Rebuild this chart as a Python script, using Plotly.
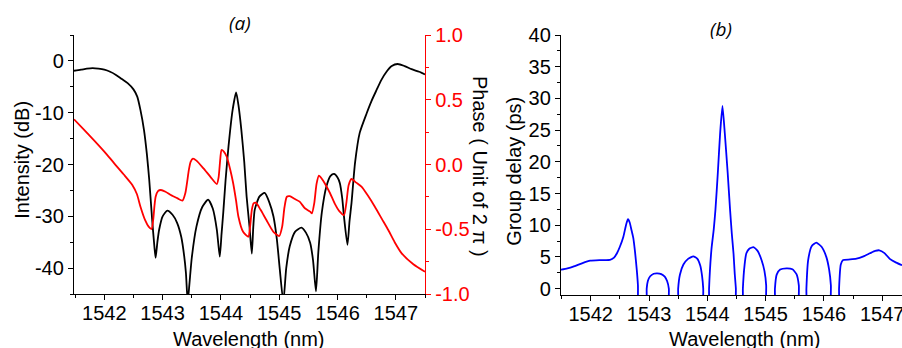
import plotly.graph_objects as go

# ---------------- data ----------------
# (a) intensity (dB) vs wavelength (nm)
int_wl = [1541.48, 1541.60, 1541.70, 1541.80, 1541.90, 1542.00, 1542.10, 1542.20, 1542.30, 1542.40,
          1542.50, 1542.565, 1542.62, 1542.68, 1542.73, 1542.77, 1542.82, 1542.86, 1542.88, 1542.91,
          1542.94, 1543.00, 1543.08, 1543.17, 1543.25, 1543.32, 1543.37, 1543.40, 1543.43, 1543.46,
          1543.50, 1543.58, 1543.68, 1543.78, 1543.86, 1543.93, 1543.98, 1544.01, 1544.04, 1544.08,
          1544.13, 1544.20, 1544.26, 1544.30, 1544.35, 1544.40, 1544.44, 1544.49, 1544.53, 1544.555,
          1544.58, 1544.66, 1544.75, 1544.83, 1544.90, 1544.96, 1545.01, 1545.07, 1545.12, 1545.18,
          1545.27, 1545.38, 1545.46, 1545.53, 1545.58, 1545.63, 1545.67, 1545.73, 1545.81, 1545.88,
          1545.94, 1546.00, 1546.04, 1546.08, 1546.11, 1546.17, 1546.205, 1546.24, 1546.30, 1546.38,
          1546.50, 1546.58, 1546.67, 1546.75, 1546.84, 1546.93, 1547.03, 1547.15, 1547.27, 1547.40,
          1547.50]
int_db = [-1.9, -1.7, -1.5, -1.4, -1.5, -1.7, -2.1, -2.7, -3.5, -4.3,
          -5.5, -6.9, -9.5, -13.3, -18.0, -22.9, -30.6, -36.0, -38.0, -35.0,
          -32.6, -30.0, -28.9, -29.7, -31.3, -34.0, -37.7, -41.0, -46.5, -43.0,
          -38.0, -32.0, -28.2, -26.8, -28.5, -32.6, -37.8, -33.5, -29.3, -23.0,
          -16.5, -9.5, -6.1, -8.5, -13.3, -19.5, -26.1, -32.0, -37.2, -32.0,
          -28.7, -26.2, -25.5, -27.3, -30.0, -34.5, -40.3, -46.5, -40.0, -35.8,
          -33.0, -32.2, -33.2, -35.1, -38.5, -44.5, -37.0, -29.3, -24.2, -22.2,
          -21.8, -22.5, -23.6, -26.5, -30.0, -35.5, -31.0, -27.4, -19.7, -13.9,
          -10.1, -7.8, -5.6, -3.7, -2.1, -1.0, -0.6, -1.0, -1.6, -2.1,
          -2.6]

# (a) phase (unit of 2 pi) vs wavelength
ph_wl = [1541.48, 1541.65, 1541.82, 1542.00, 1542.17, 1542.33, 1542.48, 1542.56, 1542.62, 1542.70,
         1542.76, 1542.81, 1542.84, 1542.86, 1542.88, 1542.92, 1542.97, 1543.05, 1543.14, 1543.25,
         1543.34, 1543.39, 1543.45, 1543.48, 1543.52, 1543.58, 1543.70, 1543.82, 1543.93, 1543.96,
         1543.99, 1544.01, 1544.05, 1544.10, 1544.16, 1544.21, 1544.26, 1544.30, 1544.38, 1544.47,
         1544.50, 1544.53, 1544.56, 1544.60, 1544.68, 1544.78, 1544.90, 1545.00, 1545.05, 1545.09,
         1545.13, 1545.18, 1545.26, 1545.35, 1545.44, 1545.53, 1545.56, 1545.60, 1545.64, 1545.68,
         1545.73, 1545.78, 1545.87, 1545.95, 1546.03, 1546.11, 1546.15, 1546.19, 1546.24, 1546.32,
         1546.41, 1546.52, 1546.64, 1546.76, 1546.87, 1546.98, 1547.10, 1547.30, 1547.50]
ph_val = [0.349, 0.27, 0.189, 0.10, 0.009, -0.075, -0.158, -0.23, -0.326, -0.43,
          -0.48, -0.498, -0.42, -0.32, -0.249, -0.205, -0.197, -0.21, -0.236, -0.26,
          -0.279, -0.22, -0.042, 0.02, 0.045, 0.03, -0.03, -0.095, -0.151, -0.10,
          0.05, 0.112, 0.10, 0.06, -0.04, -0.145, -0.28, -0.403, -0.52, -0.558,
          -0.48, -0.35, -0.30, -0.295, -0.35, -0.429, -0.52, -0.552, -0.48, -0.33,
          -0.249, -0.245, -0.265, -0.287, -0.338, -0.364, -0.377, -0.30, -0.15, -0.086,
          -0.11, -0.145, -0.22, -0.30, -0.36, -0.39, -0.30, -0.16, -0.112, -0.14,
          -0.171, -0.24, -0.326, -0.42, -0.506, -0.60, -0.686, -0.77, -0.828]

# (b) group delay (ps) vs wavelength (negative parts fall below the axis)
gd_wl = [1541.47, 1541.60, 1541.70, 1541.85, 1541.99, 1542.15, 1542.33, 1542.40, 1542.45, 1542.50,
         1542.56, 1542.61, 1542.64, 1542.67, 1542.70, 1542.73, 1542.76, 1542.79, 1542.81, 1542.83,
         1542.95, 1542.96, 1542.98, 1543.02, 1543.08, 1543.14, 1543.21, 1543.27, 1543.31, 1543.34,
         1543.35, 1543.49, 1543.50, 1543.53, 1543.59, 1543.67, 1543.76, 1543.83, 1543.88, 1543.91,
         1543.93, 1543.94, 1544.02, 1544.03, 1544.07, 1544.11, 1544.14, 1544.18, 1544.22, 1544.26,
         1544.30, 1544.35, 1544.39, 1544.42, 1544.45, 1544.47, 1544.49, 1544.50, 1544.60, 1544.61,
         1544.64, 1544.67, 1544.72, 1544.79, 1544.86, 1544.93, 1544.98, 1545.01, 1545.02, 1545.15,
         1545.16, 1545.19, 1545.25, 1545.36, 1545.46, 1545.53, 1545.57, 1545.58, 1545.69, 1545.70,
         1545.73, 1545.79, 1545.87, 1545.96, 1546.04, 1546.09, 1546.12, 1546.13, 1546.25, 1546.26,
         1546.29, 1546.33, 1546.45, 1546.56, 1546.68, 1546.79, 1546.88, 1546.95, 1547.04, 1547.13,
         1547.24, 1547.34]
gd_ps = [2.95, 3.2, 3.47, 4.0, 4.41, 4.5, 4.52, 4.9, 5.58, 6.6,
         8.2, 10.2, 10.94, 10.4, 9.2, 8.0, 5.8, 2.95, 0.5, -5,
         -5, 0.0, 1.2, 1.95, 2.35, 2.42, 2.3, 1.9, 1.2, 0.0,
         -5, -5, 0.0, 2.2, 3.8, 4.7, 5.1, 4.7, 3.6, 2.0,
         0.0, -5, -5, 0.0, 6.1, 9.3, 12.5, 18.2, 24.5, 28.8,
         24.5, 18.2, 12.5, 8.7, 5.5, 2.4, 0.0, -5, -5, 0.0,
         3.8, 5.58, 6.3, 6.53, 6.0, 4.52, 2.8, 0.5, -5, -5,
         0.0, 2.2, 3.0, 3.2, 3.05, 2.3, 0.5, -5, -5, 0.0,
         4.5, 6.7, 7.25, 6.6, 5.05, 3.0, 0.5, -5, -5, 0.0,
         3.8, 4.52, 4.6, 4.73, 5.1, 5.58, 5.95, 6.05, 5.6, 4.7,
         4.1, 3.7]

x_ticks = [1542, 1543, 1544, 1545, 1546, 1547]
int_ticks = [0, -10, -20, -30, -40]
int_tick_text = ["0", "-10", "-20", "-30", "-40"]
ph_ticks = [1.0, 0.5, 0.0, -0.5, -1.0]
ph_tick_text = ["1.0", "0.5", "0.0", "-0.5", "-1.0"]
gd_ticks = [0, 5, 10, 15, 20, 25, 30, 35, 40]

# ---------------- figure ----------------
W, H = 902, 348
FONT = "Liberation Sans, Arial, sans-serif"
TF = dict(family=FONT, size=20, color="black")

fig = go.Figure()
fig.add_trace(go.Scatter(x=int_wl, y=int_db, mode="lines", xaxis="x", yaxis="y",
                         line=dict(color="black", width=1.8, shape="spline", smoothing=0.6),
                         showlegend=False))
fig.add_trace(go.Scatter(x=ph_wl, y=ph_val, mode="lines", xaxis="x", yaxis="y2",
                         line=dict(color="#ff0000", width=1.8, shape="spline", smoothing=0.6),
                         showlegend=False))
fig.add_trace(go.Scatter(x=gd_wl, y=gd_ps, mode="lines", xaxis="x2", yaxis="y3",
                         line=dict(color="#0000ff", width=1.8, shape="spline", smoothing=0.5),
                         showlegend=False))

def px(x):
    return min(1.0, max(0.0, x / W))

def py(y):
    return min(1.0, max(0.0, 1 - y / H))

common = dict(showgrid=False, zeroline=False, showline=True, linewidth=1.3,
              ticks="outside", ticklen=5, tickwidth=1.2, tickfont=TF,
              automargin=False, ticklabeloverflow="allow")

fig.update_layout(
    width=W, height=H, autosize=False,
    margin=dict(l=0, r=0, t=0, b=0, pad=0),
    paper_bgcolor="white", plot_bgcolor="white",
    xaxis=dict(domain=[px(74), px(425)], range=[1541.48, 1547.5], anchor="y",
               tickvals=x_ticks, linecolor="black", tickcolor="black", ticklabelstandoff=-4,
               minor=dict(dtick=0.5, tick0=1542, ticklen=3, ticks="outside", tickcolor="black"),
               **common),
    yaxis=dict(domain=[py(294), py(35)], range=[-45, 5], anchor="x",
               tickvals=int_ticks, ticktext=int_tick_text, linecolor="black", tickcolor="black",
               minor=dict(dtick=5, tick0=0, ticklen=3, ticks="outside", tickcolor="black"),
               **common),
    yaxis2=dict(overlaying="y", side="right", anchor="x", range=[-1, 1],
                tickvals=ph_ticks, ticktext=ph_tick_text,
                linecolor="#ff0000", tickcolor="#ff0000",
                minor=dict(dtick=0.25, tick0=0, ticklen=3, ticks="outside", tickcolor="#ff0000"),
                showgrid=False, zeroline=False, showline=True, linewidth=1.3,
                ticks="outside", ticklen=5, tickwidth=1.2,
                automargin=False, ticklabeloverflow="allow",
                tickfont=dict(family=FONT, size=20, color="#ff0000")),
    xaxis2=dict(domain=[px(561), 1.0], range=[1541.49, 1547.34], anchor="y3",
                tickvals=x_ticks, linecolor="black", tickcolor="black", ticklabelstandoff=-4,
                minor=dict(dtick=0.5, tick0=1542, ticklen=3, ticks="outside", tickcolor="black"),
                **common),
    yaxis3=dict(domain=[py(295.3), py(35)], range=[-1.05, 40], anchor="x2",
                tickvals=gd_ticks, linecolor="black", tickcolor="black",
                minor=dict(dtick=2.5, tick0=0, ticklen=3, ticks="outside", tickcolor="black"),
                **common),
)

ann = [
    dict(text="Intensity (dB)", x=px(21.7), y=py(160), textangle=-90, font=TF),
    dict(text="Phase ( Unit of 2 \u03c0 )", x=px(480), y=py(167), textangle=90, font=TF),
    dict(text="Group delay (ps)", x=px(514), y=py(171.7), textangle=-90, font=TF),
    dict(text="Wavelength (nm)", x=px(249), y=py(339), font=TF),
    dict(text="Wavelength (nm)", x=px(744.7), y=py(339), font=TF),
    dict(text="<i>(a)</i>", x=px(240), y=py(22.5),
         font=dict(family="Open Sans, sans-serif", size=19, color="black")),
    dict(text="<i>(b)</i>", x=px(721), y=py(29),
         font=dict(family="Open Sans, sans-serif", size=19, color="black")),
]
for a in ann:
    fig.add_annotation(xref="paper", yref="paper", showarrow=False,
                       xanchor="center", yanchor="middle", **a)

# remove the browser's default 8 px page margin so the 902x348 figure fills the window
fig.write_html("out.html",
               config={"displayModeBar": False},
               post_script="document.body.style.margin='0';"
                           "document.documentElement.style.overflow='hidden';")
